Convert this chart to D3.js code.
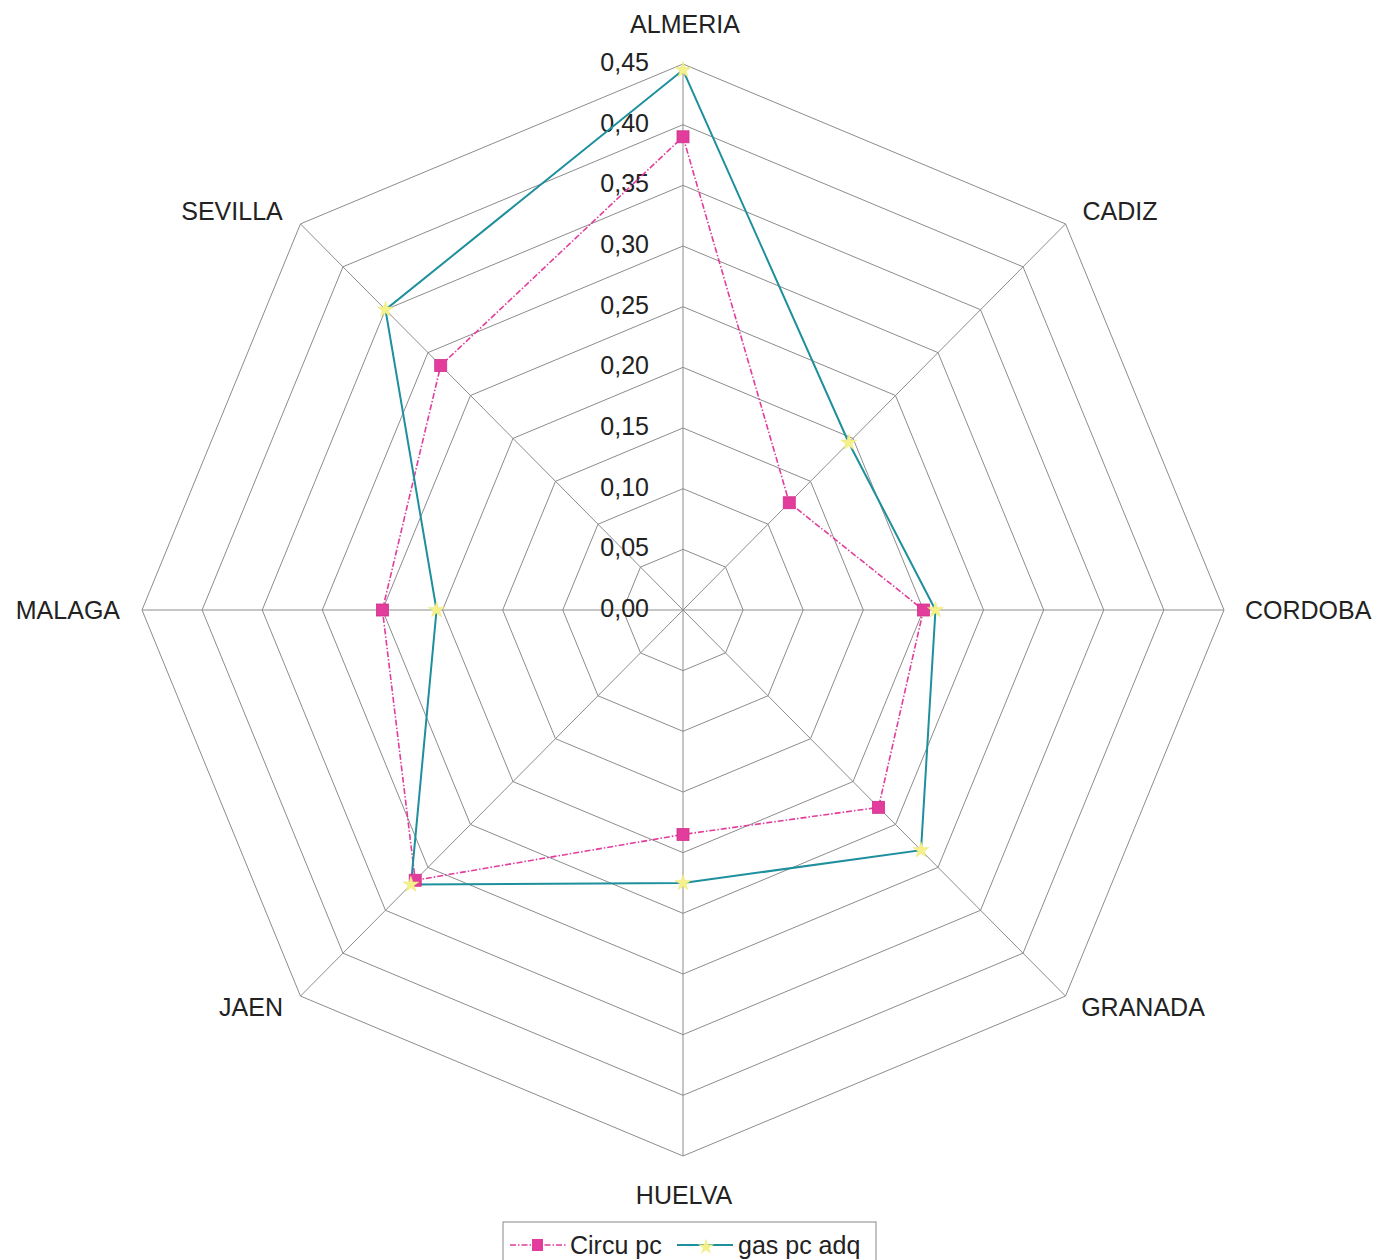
<!DOCTYPE html>
<html>
<head>
<meta charset="utf-8">
<script src="https://cdn.jsdelivr.net/npm/d3@7"></script>
<style>
  html, body { margin: 0; padding: 0; background: #fff; }
  svg { display: block; font-family: "Liberation Sans", Arial, sans-serif; }
</style>
</head>
<body>
<svg id="chart" width="1386" height="1260"></svg>
<script>
// Provinces, clockwise from the top
const categories = ["ALMERIA", "CADIZ", "CORDOBA", "GRANADA", "HUELVA", "JAEN", "MALAGA", "SEVILLA"];
const circuValues = [0.39, 0.125, 0.20, 0.23, 0.185, 0.315, 0.25, 0.285];
const gasValues = [0.445, 0.195, 0.21, 0.28, 0.225, 0.32, 0.205, 0.35];
const tickValues = [0, 0.05, 0.10, 0.15, 0.20, 0.25, 0.30, 0.35, 0.40, 0.45];
const tickLabels = ["0,00", "0,05", "0,10", "0,15", "0,20", "0,25", "0,30", "0,35", "0,40", "0,45"];
const seriesNames = ["Circu pc", "gas pc adq"];

const svg = d3.select("#chart");
const cx = 683, cy = 610;
const fontSize = 25;
// horizontal and vertical radii of the plot area
const rX = d3.scaleLinear().domain([0, 0.45]).range([0, 541]);
const rY = d3.scaleLinear().domain([0, 0.45]).range([0, 546]);
const angle = d3.scalePoint().domain(categories.concat(["_end"])).range([0, 2 * Math.PI]);

function pt(cat, v) {
  const a = angle(cat);
  return [cx + rX(v) * Math.sin(a), cy - rY(v) * Math.cos(a)];
}

const gridColor = "#8c8c8c";

// concentric octagons
const grid = svg.append("g");
tickValues.slice(1).forEach(t => {
  grid.append("path")
    .attr("d", d3.line()(categories.map(c => pt(c, t))) + "Z")
    .attr("fill", "none").attr("stroke", gridColor).attr("stroke-width", 1);
});
// spokes
categories.forEach(c => {
  const [x, y] = pt(c, 0.45);
  grid.append("line").attr("x1", cx).attr("y1", cy).attr("x2", x).attr("y2", y)
    .attr("stroke", gridColor).attr("stroke-width", 1);
});

// value labels along the top spoke
svg.append("g").selectAll("text").data(tickValues).join("text")
  .attr("x", 649)
  .attr("y", (d) => cy - rY(d) + 7)
  .attr("text-anchor", "end")
  .attr("font-size", fontSize)
  .attr("fill", "#222")
  .text((d, i) => tickLabels[i]);

// category labels
const labelPos = {
  ALMERIA: [685, 33, "middle"],
  CADIZ: [1120, 220, "middle"],
  CORDOBA: [1245, 619, "start"],
  GRANADA: [1143, 1016, "middle"],
  HUELVA: [684, 1204, "middle"],
  JAEN: [251, 1016, "middle"],
  MALAGA: [120, 619, "end"],
  SEVILLA: [232, 220, "middle"]
};
svg.append("g").selectAll("text").data(categories).join("text")
  .attr("x", d => labelPos[d][0])
  .attr("y", d => labelPos[d][1])
  .attr("text-anchor", d => labelPos[d][2])
  .attr("font-size", fontSize)
  .attr("fill", "#222")
  .text(d => d);

const pinkColor = "#e23c9c";
const tealColor = "#1e8f9c";
const yellowColor = "#f4f08a";

const radarLine = vals => d3.line()(categories.map((c, i) => pt(c, vals[i]))) + "Z";

svg.append("path").attr("d", radarLine(circuValues))
  .attr("fill", "none").attr("stroke", pinkColor).attr("stroke-width", 1.6)
  .attr("stroke-dasharray", "6,2,1.5,2");
svg.append("path").attr("d", radarLine(gasValues))
  .attr("fill", "none").attr("stroke", tealColor).attr("stroke-width", 2);

const star = d3.symbol().type(d3.symbolStar).size(80);

svg.append("g").selectAll("rect").data(categories).join("rect")
  .attr("x", (c, i) => pt(c, circuValues[i])[0] - 6)
  .attr("y", (c, i) => pt(c, circuValues[i])[1] - 6)
  .attr("width", 12).attr("height", 12)
  .attr("fill", pinkColor).attr("stroke", "#d0308a").attr("stroke-width", 0.8);

svg.append("g").selectAll("path").data(categories).join("path")
  .attr("d", star)
  .attr("transform", (c, i) => `translate(${pt(c, gasValues[i])[0]},${pt(c, gasValues[i])[1]})`)
  .attr("fill", yellowColor).attr("stroke", "#ece478").attr("stroke-width", 0.5);

// legend
const lg = svg.append("g");
lg.append("rect").attr("x", 503).attr("y", 1222).attr("width", 373).attr("height", 50)
  .attr("fill", "#fff").attr("stroke", "#888").attr("stroke-width", 1);
lg.append("line").attr("x1", 510).attr("x2", 566).attr("y1", 1245).attr("y2", 1245)
  .attr("stroke", pinkColor).attr("stroke-width", 1.6).attr("stroke-dasharray", "6,2,1.5,2");
lg.append("rect").attr("x", 532).attr("y", 1239).attr("width", 11).attr("height", 12)
  .attr("fill", pinkColor);
lg.append("text").attr("x", 570).attr("y", 1254).attr("font-size", fontSize).attr("fill", "#222")
  .text(seriesNames[0]);
lg.append("line").attr("x1", 677).attr("x2", 733).attr("y1", 1245).attr("y2", 1245)
  .attr("stroke", tealColor).attr("stroke-width", 2);
lg.append("path").attr("d", star).attr("transform", "translate(706,1247)")
  .attr("fill", yellowColor);
lg.append("text").attr("x", 738).attr("y", 1254).attr("font-size", fontSize).attr("fill", "#222")
  .text(seriesNames[1]);
</script>
</body>
</html>
